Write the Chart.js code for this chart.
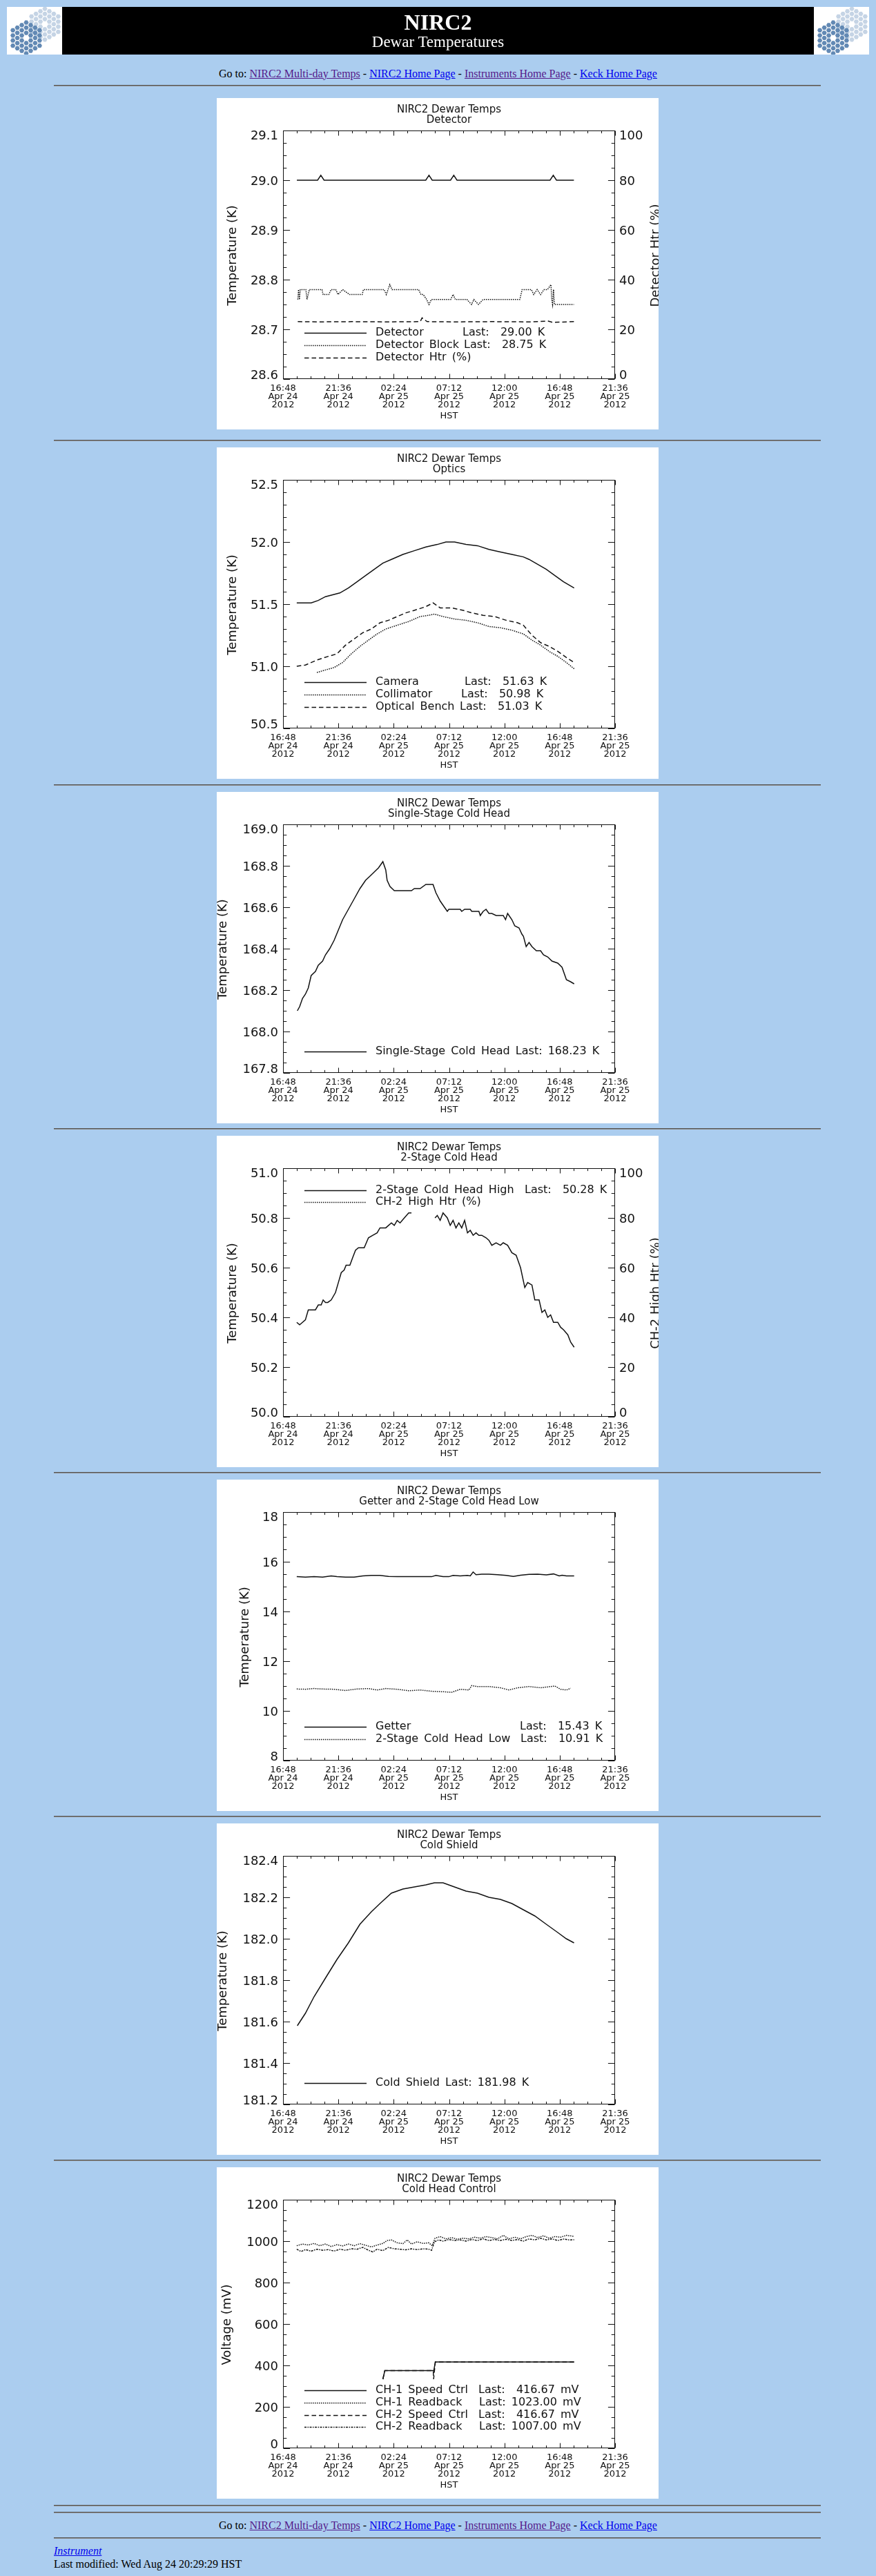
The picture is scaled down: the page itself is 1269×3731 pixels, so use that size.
<!DOCTYPE html>
<html>
<head>
<meta charset="utf-8">
<title>NIRC2 Dewar Temperatures</title>
<script src="https://cdn.jsdelivr.net/npm/chart.js@4.4.1/dist/chart.umd.min.js"></script>
<style>
  html, body { margin: 0; padding: 0; }
  body { background: #abcdef; width: 1269px; height: 3731px; position: relative; overflow: hidden;
         font-family: "Liberation Serif", "Times New Roman", serif; font-size: 16px; color: #000; }
  .rule { position: absolute; left: 78px; width: 1111px; height: 0;
          border-top: 1px solid #555; border-bottom: 1px solid #8a8a8a; }
  .plot { position: absolute; left: 314px; width: 640px; height: 480px; background: #fff; }
  .goto { position: absolute; left: 0; width: 1269px; text-align: center; line-height: 16px; white-space: nowrap; }
  .line { position: absolute; left: 78px; line-height: 16px; white-space: nowrap; }
  a.v { color: #551a8b; }
  a.n { color: #0000ee; }
  #banner { position: absolute; left: 10px; top: 10px; width: 1249px; height: 69px; background: #000; }
  #banner canvas { position: absolute; top: 0; }
  #banner .t1 { position: absolute; left: 0; width: 1249px; top: 5.5px; text-align: center; color: #fff;
                font-size: 32px; font-weight: bold; line-height: 32px; }
  #banner .t2 { position: absolute; left: 0; width: 1249px; top: 39px; text-align: center; color: #fff;
                font-size: 23px; line-height: 23px; }
</style>
</head>
<body>

<div id="banner">
  <canvas id="logoL" width="80" height="69" style="left:0"></canvas>
  <canvas id="logoR" width="80" height="69" style="left:1169px"></canvas>
  <div class="t1">NIRC2</div>
  <div class="t2">Dewar Temperatures</div>
</div>

<div class="goto" style="top:98.5px">Go to: <a class="v" href="#">NIRC2 Multi-day Temps</a> - <a class="n" href="#">NIRC2 Home Page</a> - <a class="v" href="#">Instruments Home Page</a> - <a class="n" href="#">Keck Home Page</a></div>
<div class="rule" style="top:123px"></div>

<canvas id="c1" class="plot" width="640" height="480" style="top:142px"></canvas>
<div class="rule" style="top:637px"></div>
<canvas id="c2" class="plot" width="640" height="480" style="top:648px"></canvas>
<div class="rule" style="top:1136px"></div>
<canvas id="c3" class="plot" width="640" height="480" style="top:1147px"></canvas>
<div class="rule" style="top:1634px"></div>
<canvas id="c4" class="plot" width="640" height="480" style="top:1645px"></canvas>
<div class="rule" style="top:2132px"></div>
<canvas id="c5" class="plot" width="640" height="480" style="top:2143px"></canvas>
<div class="rule" style="top:2630px"></div>
<canvas id="c6" class="plot" width="640" height="480" style="top:2641px"></canvas>
<div class="rule" style="top:3128px"></div>
<canvas id="c7" class="plot" width="640" height="480" style="top:3139px"></canvas>
<div class="rule" style="top:3628px"></div>
<div class="rule" style="top:3638px"></div>

<div class="goto" style="top:3650px">Go to: <a class="v" href="#">NIRC2 Multi-day Temps</a> - <a class="n" href="#">NIRC2 Home Page</a> - <a class="v" href="#">Instruments Home Page</a> - <a class="n" href="#">Keck Home Page</a></div>
<div class="rule" style="top:3675px"></div>
<div class="line" style="top:3686.5px"><a class="n" href="#"><i>Instrument</i></a></div>
<div class="line" style="top:3705.5px">Last modified: Wed Aug 24 20:29:29 HST</div>

<script>
// ===== Data (time = hours after 16:48 HST Apr 24 2012) =====
const xTickLabels = [
  ["16:48", "Apr 24", "2012"], ["21:36", "Apr 24", "2012"], ["02:24", "Apr 25", "2012"],
  ["07:12", "Apr 25", "2012"], ["12:00", "Apr 25", "2012"], ["16:48", "Apr 25", "2012"],
  ["21:36", "Apr 25", "2012"]
];

// Detector
const detectorTime = [1.20, 3.00, 3.28, 3.56, 12.38, 12.66, 12.94, 14.53, 14.81, 15.09, 23.16, 23.44, 23.72, 25.23];
const detectorTemp = [29.00, 29.00, 29.01, 29.00, 29.00, 29.01, 29.00, 29.00, 29.01, 29.00, 29.00, 29.01, 29.00, 29.00];
const blockTime = [1.28, 1.35, 1.42, 1.50, 1.98, 2.08, 2.28, 3.38, 3.48, 3.97,
  4.17, 4.57, 4.77, 5.17, 5.77, 6.87, 6.97, 8.77, 8.96, 9.26,
  9.46, 11.76, 11.96, 12.16, 12.46, 12.66, 12.86, 14.55, 14.75, 14.95,
  15.95, 16.35, 16.55, 16.95, 17.35, 20.54, 20.74, 21.54, 21.74, 22.04,
  22.34, 22.64, 22.94, 23.24, 23.31, 23.38, 23.46, 23.54, 25.23];
const blockTemp = [28.76, 28.78, 28.76, 28.78, 28.78, 28.76, 28.78, 28.78, 28.77, 28.77,
  28.78, 28.78, 28.77, 28.78, 28.77, 28.77, 28.78, 28.78, 28.77, 28.79,
  28.78, 28.78, 28.77, 28.77, 28.76, 28.75, 28.76, 28.76, 28.77, 28.76,
  28.76, 28.75, 28.76, 28.75, 28.76, 28.76, 28.78, 28.78, 28.77, 28.78,
  28.77, 28.78, 28.78, 28.79, 28.76, 28.75, 28.78, 28.75, 28.75];
const detHtrTime = [1.28, 3.00, 6.00, 9.00, 11.90, 12.06, 12.50, 15.00, 18.00, 21.50, 23.00, 23.40, 25.23];
const detHtrPct = [23.1, 23.0, 23.1, 23.0, 23.1, 24.6, 23.1, 23.0, 23.1, 23.0, 23.3, 22.8, 23.1];
const detectorLast = ["Last:  29.00 K", "Last:  28.75 K", ""];

// Optics
const cameraTime = [1.19, 2.44, 3.06, 3.68, 4.93, 5.67, 6.42, 7.16, 7.91, 8.66,
  9.40, 10.40, 11.39, 12.39, 13.38, 14.13, 14.88, 15.87, 16.87, 17.86,
  18.86, 19.85, 20.85, 21.34, 22.09, 22.84, 23.58, 24.33, 25.25];
const cameraTemp = [51.51, 51.51, 51.53, 51.56, 51.59, 51.63, 51.68, 51.73, 51.78, 51.83,
  51.86, 51.90, 51.93, 51.96, 51.98, 52.00, 52.00, 51.98, 51.97, 51.94,
  51.92, 51.90, 51.88, 51.86, 51.82, 51.78, 51.73, 51.68, 51.63];
const collTime = [2.94, 3.68, 4.43, 5.17, 5.92, 6.67, 7.41, 8.16, 8.91, 9.90,
  10.90, 11.89, 12.64, 13.13, 13.88, 14.88, 15.87, 16.87, 17.86, 18.86,
  19.85, 20.85, 21.59, 22.34, 23.08, 23.83, 24.58, 25.25];
const collTemp = [50.95, 50.97, 50.99, 51.03, 51.10, 51.16, 51.21, 51.26, 51.30, 51.33,
  51.36, 51.40, 51.41, 51.42, 51.40, 51.38, 51.37, 51.35, 51.32, 51.31,
  51.29, 51.26, 51.21, 51.17, 51.12, 51.08, 51.03, 50.98];
const benchTime = [1.19, 1.94, 2.94, 3.93, 4.68, 5.42, 6.17, 6.92, 7.66, 8.41,
  9.15, 9.90, 10.65, 11.39, 12.39, 13.01, 13.63, 14.63, 15.62, 16.37,
  17.36, 18.36, 19.35, 20.35, 20.85, 21.59, 22.34, 23.08, 23.83, 24.58, 25.25];
const benchTemp = [51.00, 51.01, 51.05, 51.08, 51.10, 51.17, 51.22, 51.27, 51.30, 51.35,
  51.37, 51.40, 51.43, 51.45, 51.48, 51.51, 51.47, 51.47, 51.45, 51.43,
  51.41, 51.40, 51.37, 51.35, 51.33, 51.25, 51.19, 51.16, 51.12, 51.07, 51.03];
const opticsLast = ["Last:  51.63 K", "Last:  50.98 K", "Last:  51.03 K"];

// Single-stage cold head
const singleTime = [1.24, 1.44, 1.69, 1.94, 2.19, 2.44, 2.81, 3.06, 3.43, 3.68,
  4.05, 4.43, 4.80, 5.17, 5.67, 6.17, 6.67, 7.16, 7.54, 7.91,
  8.28, 8.66, 8.91, 9.03, 9.28, 9.65, 11.14, 11.39, 11.89, 12.39,
  13.01, 13.26, 13.63, 14.00, 14.25, 14.38, 15.37, 15.50, 15.75, 16.24,
  16.37, 16.99, 17.11, 17.36, 17.61, 17.86, 18.11, 18.48, 19.10, 19.30,
  19.48, 19.85, 20.10, 20.47, 20.72, 20.85, 21.09, 21.34, 21.59, 21.97,
  22.34, 22.59, 22.96, 23.33, 23.83, 24.20, 24.58, 24.95, 25.25];
const singleTemp = [168.10, 168.12, 168.16, 168.18, 168.21, 168.27, 168.29, 168.32, 168.34, 168.37,
  168.40, 168.44, 168.49, 168.54, 168.59, 168.64, 168.69, 168.73, 168.75, 168.77,
  168.79, 168.82, 168.78, 168.73, 168.70, 168.68, 168.68, 168.69, 168.69, 168.71,
  168.71, 168.67, 168.63, 168.60, 168.58, 168.59, 168.59, 168.58, 168.59, 168.59,
  168.58, 168.58, 168.56, 168.58, 168.59, 168.57, 168.57, 168.56, 168.56, 168.54,
  168.57, 168.54, 168.51, 168.50, 168.47, 168.46, 168.41, 168.43, 168.41, 168.39,
  168.39, 168.37, 168.36, 168.34, 168.33, 168.31, 168.25, 168.24, 168.23];

// 2-stage cold head high (null = no data)
const highTime = [1.19, 1.44, 1.69, 1.94, 2.19, 2.56, 2.81, 3.06, 3.31, 3.48,
  3.68, 3.88, 4.18, 4.55, 4.80, 5.05, 5.30, 5.47, 5.80, 6.04,
  6.29, 6.54, 7.04, 7.41, 7.79, 8.16, 8.41, 8.91, 9.40, 9.65,
  9.90, 10.15, 10.52, 10.90, 11.14, 12.20, 13.18, 13.38, 13.63, 13.88,
  14.25, 14.50, 14.75, 15.00, 15.25, 15.50, 15.75, 16.00, 16.24, 16.49,
  16.74, 16.99, 17.24, 17.61, 17.86, 18.11, 18.48, 18.86, 19.10, 19.48,
  19.85, 20.22, 20.60, 20.97, 21.22, 21.59, 21.84, 22.21, 22.46, 22.71,
  22.96, 23.21, 23.46, 23.83, 24.08, 24.33, 24.70, 24.95, 25.25];
const highTemp = [50.38, 50.37, 50.38, 50.39, 50.43, 50.43, 50.43, 50.45, 50.45, 50.47,
  50.46, 50.46, 50.47, 50.50, 50.54, 50.58, 50.59, 50.61, 50.61, 50.64,
  50.67, 50.68, 50.68, 50.72, 50.73, 50.74, 50.76, 50.76, 50.78, 50.77,
  50.79, 50.78, 50.80, 50.82, 50.82, null, 50.80, 50.81, 50.79, 50.82,
  50.80, 50.77, 50.79, 50.76, 50.78, 50.76, 50.79, 50.74, 50.75, 50.73,
  50.74, 50.73, 50.73, 50.72, 50.71, 50.69, 50.70, 50.69, 50.70, 50.69,
  50.66, 50.65, 50.60, 50.52, 50.54, 50.53, 50.47, 50.47, 50.42, 50.43,
  50.40, 50.41, 50.38, 50.38, 50.36, 50.35, 50.33, 50.30, 50.28];
const ch2HtrTime = [1.19, 25.25];
const ch2HtrPct = [0, 0];
const highLast = ["Last:  50.28 K", ""];

// Getter and 2-stage cold head low
const getterTime = [1.19, 1.94, 2.69, 3.43, 4.18, 4.68, 5.42, 6.17, 6.92, 7.66,
  8.41, 9.15, 9.90, 11.39, 12.89, 13.26, 13.88, 14.38, 14.75, 15.37,
  15.99, 16.24, 16.49, 16.74, 17.24, 17.86, 18.61, 19.35, 19.98, 20.60,
  21.34, 22.09, 22.84, 23.46, 23.96, 24.20, 24.58, 25.25];
const getterTemp = [15.40, 15.38, 15.40, 15.38, 15.43, 15.40, 15.38, 15.38, 15.43, 15.45,
  15.45, 15.41, 15.40, 15.40, 15.40, 15.45, 15.40, 15.40, 15.45, 15.43,
  15.45, 15.43, 15.59, 15.48, 15.50, 15.50, 15.48, 15.45, 15.41, 15.46,
  15.49, 15.50, 15.47, 15.51, 15.43, 15.46, 15.43, 15.43];
const lowTime = [1.19, 1.94, 2.69, 3.43, 4.43, 5.42, 6.42, 7.41, 8.16, 8.91,
  9.90, 10.90, 11.89, 12.89, 13.88, 14.63, 15.37, 16.12, 16.37, 16.87,
  17.86, 18.86, 19.60, 20.35, 21.34, 22.34, 23.58, 24.08, 24.58, 24.95];
const lowTemp = [10.88, 10.87, 10.90, 10.88, 10.87, 10.82, 10.88, 10.90, 10.84, 10.90,
  10.87, 10.81, 10.84, 10.79, 10.77, 10.75, 10.87, 10.84, 11.02, 10.98,
  10.98, 10.93, 10.84, 10.93, 10.98, 10.93, 11.00, 10.87, 10.84, 10.91];
const getterLast = ["Last:  15.43 K", "Last:  10.91 K"];

// Cold shield
const shieldTime = [1.24, 1.94, 2.69, 3.68, 4.68, 5.67, 6.67, 7.66, 8.41, 9.40,
  10.40, 11.39, 12.39, 13.13, 13.88, 14.87, 15.87, 16.86, 17.86, 18.85,
  19.85, 20.84, 21.84, 22.83, 23.83, 24.57, 25.24];
const shieldTemp = [181.58, 181.64, 181.72, 181.81, 181.90, 181.98, 182.07, 182.13, 182.17, 182.22,
  182.24, 182.25, 182.26, 182.27, 182.27, 182.25, 182.23, 182.22, 182.20, 182.19,
  182.17, 182.14, 182.11, 182.07, 182.03, 182.00, 181.98];

// Cold head control (mV)
const ch1SpeedTime = [8.66, 8.83, 13.08, 13.21, 25.25];
const ch1SpeedMv = [333.33, 375.00, 375.00, 416.67, 416.67];
const ch2SpeedTime = [8.66, 8.83, 13.03, 13.06, 13.21, 25.25];
const ch2SpeedMv = [333.33, 375.00, 375.00, 333.33, 416.67, 416.67];
const ch1ReadTime = [1.19, 1.69, 2.19, 2.69, 3.18, 3.68, 4.18, 4.68, 5.17, 5.67,
  6.17, 6.67, 7.16, 7.66, 8.16, 8.66, 9.03, 9.40, 9.90, 10.40,
  10.77, 11.14, 11.64, 12.14, 12.64, 12.94, 13.18, 13.63, 14.13, 14.63,
  15.12, 15.62, 16.12, 16.62, 17.11, 17.61, 18.11, 18.61, 19.10, 19.60,
  20.10, 20.60, 21.09, 21.59, 22.09, 22.59, 23.08, 23.58, 24.08, 24.58, 25.25];
const ch1ReadMv = [978, 986, 981, 989, 978, 986, 974, 983, 977, 986,
  978, 988, 980, 972, 981, 989, 1003, 1006, 992, 988,
  1006, 986, 997, 989, 992, 978, 1014, 1022, 1011, 1017,
  1009, 1014, 1011, 1019, 1014, 1022, 1017, 1011, 1028, 1011,
  1019, 1011, 1022, 1028, 1017, 1026, 1014, 1022, 1019, 1028, 1023];
const ch2ReadTime = [1.19, 1.57, 1.94, 2.44, 2.94, 3.43, 3.93, 4.43, 4.93, 5.42,
  5.92, 6.42, 6.92, 7.41, 7.79, 8.16, 8.66, 9.15, 9.65, 10.15,
  10.65, 11.14, 11.64, 12.14, 12.64, 12.89, 13.13, 13.51, 13.88, 14.38,
  14.88, 15.37, 15.87, 16.37, 16.87, 17.36, 17.86, 18.36, 18.86, 19.35,
  19.85, 20.35, 20.85, 21.34, 21.84, 22.34, 22.84, 23.33, 23.83, 24.33, 24.83, 25.25];
const ch2ReadMv = [961, 950, 959, 952, 961, 956, 959, 952, 961, 956,
  963, 961, 970, 956, 948, 961, 954, 970, 963, 961,
  958, 963, 959, 963, 961, 956, 997, 1006, 1000, 1008,
  1003, 1006, 1000, 1008, 1003, 1011, 1003, 1008, 1003, 1009,
  1003, 1008, 1000, 1011, 1006, 1014, 1006, 1011, 1003, 1010, 1006, 1007];
const controlLast = ["Last:  416.67 mV", "Last: 1023.00 mV", "Last:  416.67 mV", "Last: 1007.00 mV"];

// ===== Styles =====
const FONT = "'DejaVu Sans', sans-serif";
const INK = "#111";
const SOLID = [], DOTTED = [1.5, 1.5], DASHED = [6.5, 4], DASHDOT = [3, 1.5, 1.5, 1.5];
const X_STEP = 4.8;

Chart.defaults.font.family = FONT;
Chart.defaults.color = INK;

// ===== Helper: IDL style frame, inward ticks, titles, legend =====
function steps(min, max, step) {
  const n = Math.round((max - min) / step);
  const out = [];
  for (let i = 0; i <= n; i++) out.push(min + i * step);
  return out;
}

const idlFrame = {
  id: "idlFrame",
  afterDraw(chart, args, o) {
    const ctx = chart.ctx;
    const a = chart.chartArea;
    const xs = chart.scales.x, yl = chart.scales.y, yr = chart.scales.y2;
    const L = Math.round(a.left) + 0.5, R = Math.round(a.right) - 0.5;
    const T = Math.round(a.top) + 0.5, B = Math.round(a.bottom) - 0.5;

    ctx.save();
    ctx.strokeStyle = INK;
    ctx.fillStyle = INK;
    ctx.lineWidth = 1;
    ctx.setLineDash([]);
    ctx.strokeRect(L, T, R - L, B - T);

    // inward ticks
    ctx.beginPath();
    steps(xs.min, xs.max, X_STEP / 4).forEach((v, i) => {
      const p = Math.round(xs.getPixelForValue(v)) + 0.5;
      const len = i % 4 === 0 ? 7 : 3.6;
      ctx.moveTo(p, B); ctx.lineTo(p, B - len);
      ctx.moveTo(p, T); ctx.lineTo(p, T + len);
    });
    steps(yl.min, yl.max, o.yStep / o.yMinor).forEach((v, i) => {
      const p = Math.round(yl.getPixelForValue(v)) + 0.5;
      const len = i % o.yMinor === 0 ? 9.6 : 4.8;
      ctx.moveTo(L, p); ctx.lineTo(L + len, p);
      if (!yr) { ctx.moveTo(R, p); ctx.lineTo(R - len, p); }
    });
    if (yr) {
      steps(yr.min, yr.max, o.y2Step / 4).forEach((v, i) => {
        const p = Math.round(yr.getPixelForValue(v)) + 0.5;
        const len = i % 4 === 0 ? 9.6 : 4.8;
        ctx.moveTo(R, p); ctx.lineTo(R - len, p);
      });
    }
    ctx.stroke();

    // y tick labels (end labels kept inside the box, as IDL does)
    ctx.font = "18px " + FONT;
    ctx.textBaseline = "alphabetic";
    const yLabels = (scale, dec, x, align) => {
      ctx.textAlign = align;
      const ticks = scale.ticks;
      ticks.forEach((t, i) => {
        let base = scale.getPixelForValue(t.value) + 6.6;
        if (i === ticks.length - 1) base = a.top + 13.4;
        if (i === 0) base = a.bottom;
        ctx.fillText(t.value.toFixed(dec), x, base);
      });
    };
    yLabels(yl, o.yDec, a.left - 7, "right");
    if (yr) yLabels(yr, 0, a.right + 6, "left");

    // titles
    const cx = (a.left + a.right) / 2;
    ctx.textAlign = "center";
    ctx.textBaseline = "middle";
    ctx.font = "15px " + FONT;
    ctx.fillText(o.title[0], cx, 17.5);
    ctx.fillText(o.title[1], cx, 32.5);
    ctx.font = "13px " + FONT;
    ctx.fillText("HST", cx, 461);

    ctx.font = "18px " + FONT;
    ctx.textBaseline = "alphabetic";
    const vTitle = (text, x) => {
      ctx.save();
      ctx.translate(x, 228);
      ctx.rotate(-Math.PI / 2);
      ctx.textAlign = "center";
      ctx.fillText(text, 0, 0);
      ctx.restore();
    };
    vTitle(o.yTitle, o.yTitleX);
    if (o.y2Title) vTitle(o.y2Title, o.y2TitleX);

    // legend inside the plot
    ctx.font = "16px " + FONT;
    ctx.wordSpacing = "3px";
    ctx.textAlign = "left";
    ctx.textBaseline = "middle";
    o.legendY.forEach((y, i) => {
      const ds = chart.data.datasets[i];
      ctx.lineWidth = ds.borderWidth;
      ctx.setLineDash(ds.borderDash);
      ctx.beginPath();
      ctx.moveTo(127, Math.round(y) + 0.5);
      ctx.lineTo(217, Math.round(y) + 0.5);
      ctx.stroke();
      ctx.setLineDash([]);
      ctx.fillText(ds.label, 230, y);
      if (o.last && o.last[i]) ctx.fillText(o.last[i], o.lastX[i], y);
    });
    ctx.restore();
  }
};

// ===== Helper: build one chart =====
function series(label, t, v, dash, axis) {
  return {
    label,
    data: t.map((x, i) => ({ x, y: v[i] })),
    yAxisID: axis || "y",
    borderColor: INK,
    borderWidth: 1.5,
    borderDash: dash,
    borderCapStyle: "butt",
    pointRadius: 0,
    fill: false,
    tension: 0,
    spanGaps: false
  };
}

function makeChart(id, cfg) {
  const hidden = { display: false, drawTicks: false };
  const scales = {
    x: {
      type: "linear", min: 0, max: 28.8,
      grid: hidden, border: { display: false },
      afterFit: s => { s.height = 73; },
      ticks: {
        stepSize: X_STEP, autoSkip: false, maxRotation: 0, minRotation: 0, padding: 8,
        color: INK, font: { size: 13, lineHeight: "12px" },
        callback: v => xTickLabels[Math.round(v / X_STEP)]
      }
    },
    y: {
      type: "linear", position: "left", min: cfg.yMin, max: cfg.yMax,
      grid: hidden, border: { display: false },
      afterFit: s => { s.width = 96; },
      ticks: { stepSize: cfg.yStep, display: false }
    }
  };
  if (cfg.y2Step) {
    scales.y2 = {
      type: "linear", position: "right", min: 0, max: 100,
      grid: hidden, border: { display: false },
      afterFit: s => { s.width = 63; },
      ticks: { stepSize: cfg.y2Step, display: false }
    };
  }
  return new Chart(document.getElementById(id), {
    type: "line",
    data: { datasets: cfg.datasets },
    options: {
      responsive: false,
      animation: false,
      events: [],
      layout: { autoPadding: false, padding: { top: 47, left: 0, bottom: 0, right: cfg.y2Step ? 0 : 63 } },
      scales,
      plugins: {
        legend: { display: false },
        tooltip: { enabled: false },
        idlFrame: cfg
      }
    },
    plugins: [idlFrame]
  });
}

// ===== Logo (twin segmented mirrors) =====
function drawLogo(cv) {
  const g = cv.getContext("2d");
  g.fillStyle = "#fff";
  g.fillRect(0, 0, cv.width, cv.height);
  const r = 4.3;
  const hex = (x, y, s) => {
    g.beginPath();
    for (let k = 0; k < 6; k++) {
      const ang = Math.PI / 3 * k;
      g.lineTo(x + s * Math.cos(ang), y + s * Math.sin(ang));
    }
    g.closePath();
    g.fill();
  };
  const mirror = (cx, cy, color) => {
    g.fillStyle = color;
    for (let q = -3; q <= 3; q++) {
      for (let s = -3; s <= 3; s++) {
        const d = Math.max(Math.abs(q), Math.abs(s), Math.abs(q + s));
        if (d === 0 || d > 3) continue;
        hex(cx + 1.5 * r * q, cy + Math.sqrt(3) * r * (s + q / 2), r - 0.7);
      }
    }
  };
  mirror(55, 25, "#c5d4e5");
  mirror(28, 45, "#6289b4");
}
drawLogo(document.getElementById("logoL"));
drawLogo(document.getElementById("logoR"));

// ===== Charts =====
makeChart("c1", {
  title: ["NIRC2 Dewar Temps", "Detector"],
  yMin: 28.6, yMax: 29.1, yStep: 0.1, yMinor: 4, yDec: 1, y2Step: 20,
  yTitle: "Temperature (K)", yTitleX: 28, y2Title: "Detector Htr (%)", y2TitleX: 641,
  legendY: [340, 357.5, 375.5], last: detectorLast, lastX: [356, 358, 0],
  datasets: [
    series("Detector", detectorTime, detectorTemp, SOLID),
    series("Detector Block", blockTime, blockTemp, DOTTED),
    series("Detector Htr (%)", detHtrTime, detHtrPct, DASHED, "y2")
  ]
});

makeChart("c2", {
  title: ["NIRC2 Dewar Temps", "Optics"],
  yMin: 50.5, yMax: 52.5, yStep: 0.5, yMinor: 5, yDec: 1,
  yTitle: "Temperature (K)", yTitleX: 28,
  legendY: [340, 357.5, 375.5], last: opticsLast, lastX: [359, 354, 352],
  datasets: [
    series("Camera", cameraTime, cameraTemp, SOLID),
    series("Collimator", collTime, collTemp, DOTTED),
    series("Optical Bench", benchTime, benchTemp, DASHED)
  ]
});

makeChart("c3", {
  title: ["NIRC2 Dewar Temps", "Single-Stage Cold Head"],
  yMin: 167.8, yMax: 169.0, yStep: 0.2, yMinor: 4, yDec: 1,
  yTitle: "Temperature (K)", yTitleX: 14,
  legendY: [375.5],
  datasets: [
    series("Single-Stage Cold Head Last: 168.23 K", singleTime, singleTemp, SOLID)
  ]
});

makeChart("c4", {
  title: ["NIRC2 Dewar Temps", "2-Stage Cold Head"],
  yMin: 50.0, yMax: 51.0, yStep: 0.2, yMinor: 4, yDec: 1, y2Step: 20,
  yTitle: "Temperature (K)", yTitleX: 28, y2Title: "CH-2 High Htr (%)", y2TitleX: 641,
  legendY: [78.5, 96], last: highLast, lastX: [446, 0],
  datasets: [
    series("2-Stage Cold Head High", highTime, highTemp, SOLID),
    series("CH-2 High Htr (%)", ch2HtrTime, ch2HtrPct, DOTTED, "y2")
  ]
});

makeChart("c5", {
  title: ["NIRC2 Dewar Temps", "Getter and 2-Stage Cold Head Low"],
  yMin: 8, yMax: 18, yStep: 2, yMinor: 4, yDec: 0,
  yTitle: "Temperature (K)", yTitleX: 46,
  legendY: [357.5, 375.5], last: getterLast, lastX: [439, 440],
  datasets: [
    series("Getter", getterTime, getterTemp, SOLID),
    series("2-Stage Cold Head Low", lowTime, lowTemp, DOTTED)
  ]
});

makeChart("c6", {
  title: ["NIRC2 Dewar Temps", "Cold Shield"],
  yMin: 181.2, yMax: 182.4, yStep: 0.2, yMinor: 4, yDec: 1,
  yTitle: "Temperature (K)", yTitleX: 14,
  legendY: [375.5],
  datasets: [
    series("Cold Shield Last: 181.98 K", shieldTime, shieldTemp, SOLID)
  ]
});

makeChart("c7", {
  title: ["NIRC2 Dewar Temps", "Cold Head Control"],
  yMin: 0, yMax: 1200, yStep: 200, yMinor: 4, yDec: 0,
  yTitle: "Voltage (mV)", yTitleX: 19.5,
  legendY: [323, 340.5, 358.5, 376], last: controlLast, lastX: [379, 380, 379, 380],
  datasets: [
    series("CH-1 Speed Ctrl", ch1SpeedTime, ch1SpeedMv, SOLID),
    series("CH-1 Readback", ch1ReadTime, ch1ReadMv, DOTTED),
    series("CH-2 Speed Ctrl", ch2SpeedTime, ch2SpeedMv, DASHED),
    series("CH-2 Readback", ch2ReadTime, ch2ReadMv, DASHDOT)
  ]
});
</script>
</body>
</html>
